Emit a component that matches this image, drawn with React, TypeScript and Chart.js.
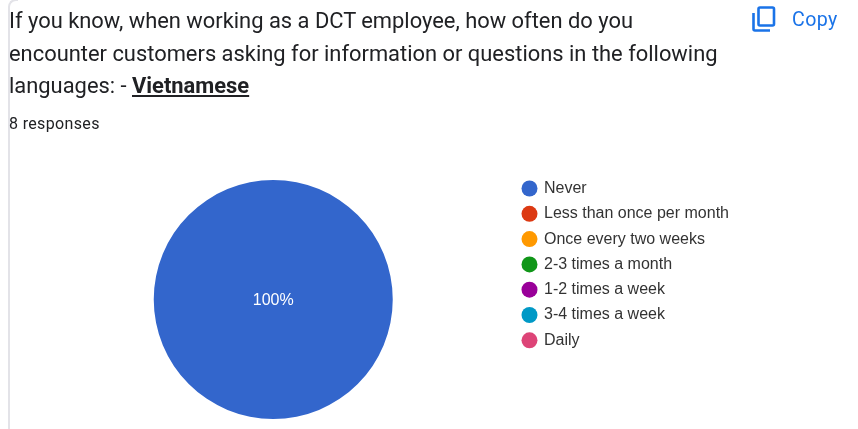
import React, { useEffect, useRef } from "react";
import { Chart, registerables } from "chart.js";

Chart.register(...registerables);

const categories = [
  "Never",
  "Less than once per month",
  "Once every two weeks",
  "2-3 times a month",
  "1-2 times a week",
  "3-4 times a week",
  "Daily",
];
const responses = [8, 0, 0, 0, 0, 0, 0];
const sliceColors = ["#3366cc", "#dc3912", "#ff9900", "#109618", "#990099", "#0099c6", "#dd4477"];
const titleLead = [
  "If you know, when working as a DCT employee, how often do you",
  "encounter customers asking for information or questions in the following",
  "languages: - ",
];
const titleBold = "Vietnamese";
const responseNote = "8 responses";
const copyLabel = "Copy";

const percentLabels = {
  id: "percentLabels",
  afterDatasetsDraw(chart: any) {
    const { ctx } = chart;
    const values: number[] = chart.data.datasets[0].data;
    const total = values.reduce((a, b) => a + b, 0);
    chart.getDatasetMeta(0).data.forEach((arc: any, i: number) => {
      if (!values[i]) return;
      const p = arc.tooltipPosition();
      ctx.save();
      ctx.fillStyle = "#ffffff";
      ctx.font = '16px "Liberation Sans", Arial, sans-serif';
      ctx.textAlign = "center";
      ctx.textBaseline = "middle";
      const full = values[i] === total;
      ctx.fillText(`${Math.round((values[i] / total) * 100)}%`, full ? arc.x : p.x, (full ? arc.y : p.y) + 1.5);
      ctx.restore();
    });
  },
};

export default function App() {
  const ref = useRef<HTMLCanvasElement>(null);
  useEffect(() => {
    const chart = new Chart(ref.current!, {
      type: "pie",
      data: {
        labels: categories,
        datasets: [{ data: responses, backgroundColor: sliceColors, borderWidth: 0, radius: 119.5 }],
      },
      options: {
        animation: false,
        responsive: false,
        layout: { padding: { left: 32.8, top: 171.2, right: 0, bottom: 1.2 } },
        plugins: {
          tooltip: { enabled: false },
          legend: {
            position: "right",
            align: "start",
            labels: {
              usePointStyle: true,
              pointStyle: "circle",
              boxWidth: 13,
              boxHeight: 11.3,
              padding: 9.3,
              color: "#333333",
              font: { family: '"Liberation Sans", Arial, sans-serif', size: 16 },
            },
          },
        },
      },
      plugins: [percentLabels],
    } as any);
    return () => chart.destroy();
  }, []);

  return (
    <div style={{ position: "fixed", left: 0, top: 0, width: 858, height: 429, background: "#fff", overflow: "hidden" }}>
      <div
        style={{
          position: "absolute",
          left: 8,
          top: -1,
          width: 40,
          height: 430,
          borderLeft: "2px solid #e3e3e8",
          borderTop: "2px solid #e3e3e8",
          borderTopLeftRadius: 8,
          boxSizing: "border-box",
          clipPath: "inset(0 30px 0 0)",
        }}
      />
      <canvas ref={ref} width={739} height={429} style={{ position: "absolute", left: 0, top: 0 }} />
      <div
        style={{
          position: "absolute",
          left: 9,
          top: 5.4,
          font: '400 21.9px/32.5px Roboto, sans-serif',
          color: "#202124",
          whiteSpace: "pre",
        }}
      >
        {titleLead[0]}
        {"\n"}
        {titleLead[1]}
        {"\n"}
        {titleLead[2]}
        <b style={{ fontWeight: 700, textDecoration: "underline" }}>{titleBold}</b>
      </div>
      <div
        style={{
          position: "absolute",
          left: 9,
          top: 114,
          font: '400 16px/20px Roboto, sans-serif',
          letterSpacing: 0.35,
          color: "#202124",
          whiteSpace: "pre",
        }}
      >
        {responseNote}
      </div>
      <svg style={{ position: "absolute", left: 750, top: 5 }} width={28} height={30} viewBox="0 0 28 30">
        <rect x={8.5} y={2.5} width={15.5} height={18} rx={1.5} fill="none" stroke="#1a73e8" strokeWidth={2.6} />
        <path d="M3.5 8 V24 Q3.5 25.5 5 25.5 H20" fill="none" stroke="#1a73e8" strokeWidth={2.6} />
      </svg>
      <div
        style={{
          position: "absolute",
          left: 792,
          top: 9,
          font: '400 19.6px/22px Roboto, sans-serif',
          letterSpacing: 0.4,
          color: "#1a73e8",
          whiteSpace: "pre",
        }}
      >
        {copyLabel}
      </div>
    </div>
  );
}
